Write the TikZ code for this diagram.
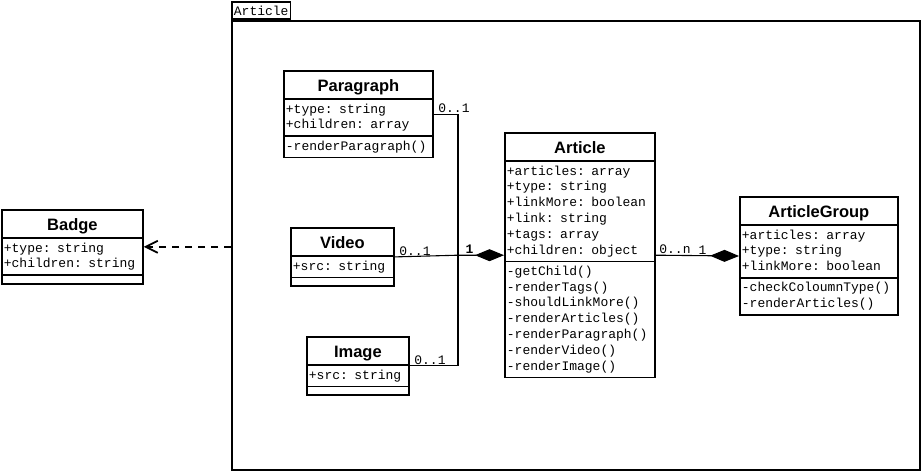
\documentclass[tikz,border=0pt]{standalone}
\usepackage{fontspec}
\usetikzlibrary{shapes.multipart,arrows.meta}
\newfontfamily\monofont{Liberation Mono}
\newfontfamily\headfont{Liberation Sans}
\newcommand{\umlfont}{\monofont\fontsize{13}{15.8}\selectfont}
\newcommand{\ctitle}[1]{\hbox to\hsize{\hss\headfont\bfseries\fontsize{16.5}{20}\selectfont\rule[-5pt]{0pt}{23pt}#1\hss}}
\newcommand{\row}[1]{\noindent\strut#1\par}
\newcommand{\noops}{\noindent\rule{0pt}{3pt}\par}

\begin{document}
\begin{tikzpicture}[x=1pt, y=-1pt,
                    uml_class/.style={rectangle split, rectangle split parts=3, draw=black, line width=1.8pt, inner xsep=2pt, inner ysep=1.8pt, anchor=north west, font=\umlfont},
                    mult/.style={font=\umlfont, inner sep=1pt},
                    assoc/.style={line width=1.1pt},
                    owner/.style={assoc, -{Diamond[length=29pt, width=12pt]}}
                ]
                \useasboundingbox (0,0) rectangle (922,471);
                % package frame
                \node[draw, line width=1.8pt, minimum width=688pt, minimum height=449pt, inner sep=0pt, anchor=north west] (pkg) at (231,20) {};
                \node[draw, line width=1.8pt, anchor=south west, inner xsep=2pt, inner ysep=0pt, minimum height=17pt, font=\umlfont] (pkgtab) at (pkg.north west) {Article};
                % classes
                \node[uml_class, text width=145pt] (paragraph) at (283,70) {\ctitle{Paragraph}
                    \nodepart{second}\row{+type: string}\row{+children: array}
                    \nodepart{third}\row{-renderParagraph()}};
                \node[uml_class, text width=99pt] (video) at (290,227) {\ctitle{Video}
                    \nodepart{second}\row{+src: string}
                    \nodepart{third}\noops};
                \node[uml_class, text width=98pt] (image) at (306,336) {\ctitle{Image}
                    \nodepart{second}\row{+src: string}
                    \nodepart{third}\noops};
                \node[uml_class, text width=146pt] (article) at (504,132) {\ctitle{Article}
                    \nodepart{second}\row{+articles: array}\row{+type: string}\row{+linkMore: boolean}\row{+link: string}\row{+tags: array}\row{+children: object}
                    \nodepart{third}\row{-getChild()}\row{-renderTags()}\row{-shouldLinkMore()}\row{-renderArticles()}\row{-renderParagraph()}\row{-renderVideo()}\row{-renderImage()}};
                \node[uml_class, text width=154pt] (articlegroup) at (739,196) {\ctitle{ArticleGroup}
                    \nodepart{second}\row{+articles: array}\row{+type: string}\row{+linkMore: boolean}
                    \nodepart{third}\row{-checkColoumnType()}\row{-renderArticles()}};
                \node[uml_class, text width=137pt] (badge) at (1,209) {\ctitle{Badge}
                    \nodepart{second}\row{+type: string}\row{+children: string}
                    \nodepart{third}\noops};
                % connectors
                \coordinate (jn) at ([xshift=-46pt]article.west);
                \draw[assoc] (paragraph.east) node[mult, above right, xshift=3pt] {0..1} -| (jn);
                \draw[assoc] (image.east) node[mult, above right, xshift=3pt] {0..1} -| (jn);
                \draw[owner] (video.east) node[mult, above right, xshift=3pt] {0..1} -- (jn) node[mult, above right, xshift=6pt] {\textbf{1}} -- (article.west);
                \draw[owner] (article.east) node[mult, above right, xshift=2pt] {0..n} -- (articlegroup.west) node[mult, above left, xshift=-31pt] {1};
                \draw[line width=1.8pt, dash pattern=on 7pt off 6pt, -{Straight Barb[length=12pt, width=12pt]}] (pkg.west |- badge.east) -- (badge.east);
\end{tikzpicture}
\end{document}
